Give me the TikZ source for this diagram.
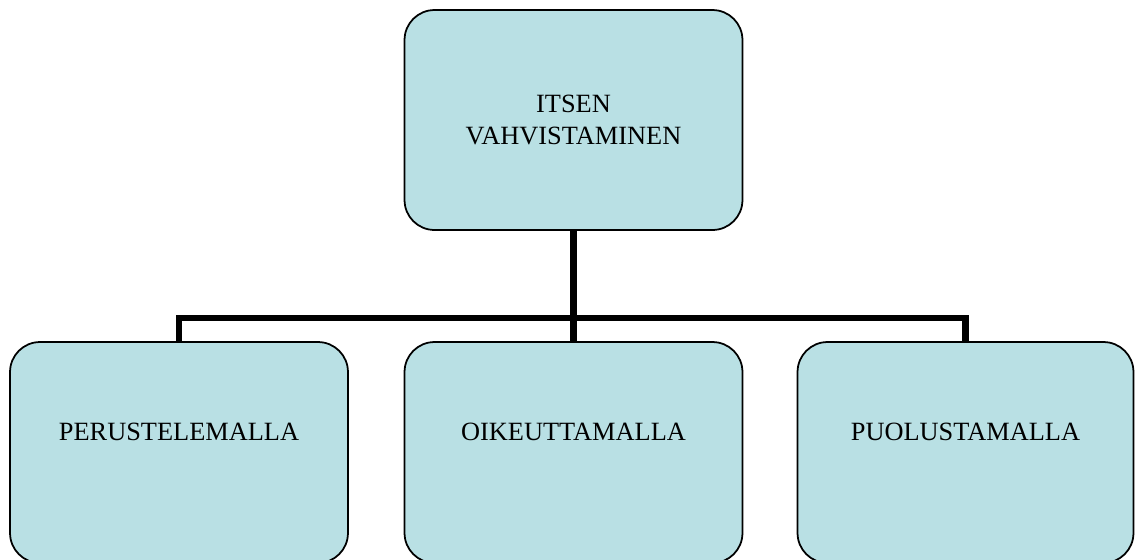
\documentclass[tikz,border=0pt]{standalone}
\usepackage{fontspec}
\setmainfont{Liberation Serif}
\usepackage{tikz}
\definecolor{boxfill}{RGB}{185,224,228}

\begin{document}
\begin{tikzpicture}[x=0.02cm,y=-0.02cm,
  box/.style={draw,line width=1pt,rounded corners=0.6cm,fill=boxfill,align=center,
    minimum width=6.76cm,minimum height=4.42cm,inner sep=0pt,
    font=\fontsize{15}{18.5}\selectfont},
  low/.style={text height=0.35cm,text depth=0.85cm},
  link/.style={line width=3.6pt}]
\useasboundingbox (0,0) rectangle (1136,559);
% top
\node[box,minimum height=4.4cm] (top) at (573.5,120) {ITSEN\\VAHVISTAMINEN};
% bottom row (cut off by the page edge)
\node[box,low] (perus) at (179,452.5) {PERUSTELEMALLA};
\node[box,low] (oik) at (573.5,452.5) {OIKEUTTAMALLA};
\node[box,low,minimum width=6.72cm] (puol) at (965.5,452.5) {PUOLUSTAMALLA};
\coordinate (bus) at (573.5,318);
\draw[link] (top.south) -- (oik.north);
\draw[link] (perus.north) |- (bus) -| (puol.north);
\end{tikzpicture}
\end{document}
